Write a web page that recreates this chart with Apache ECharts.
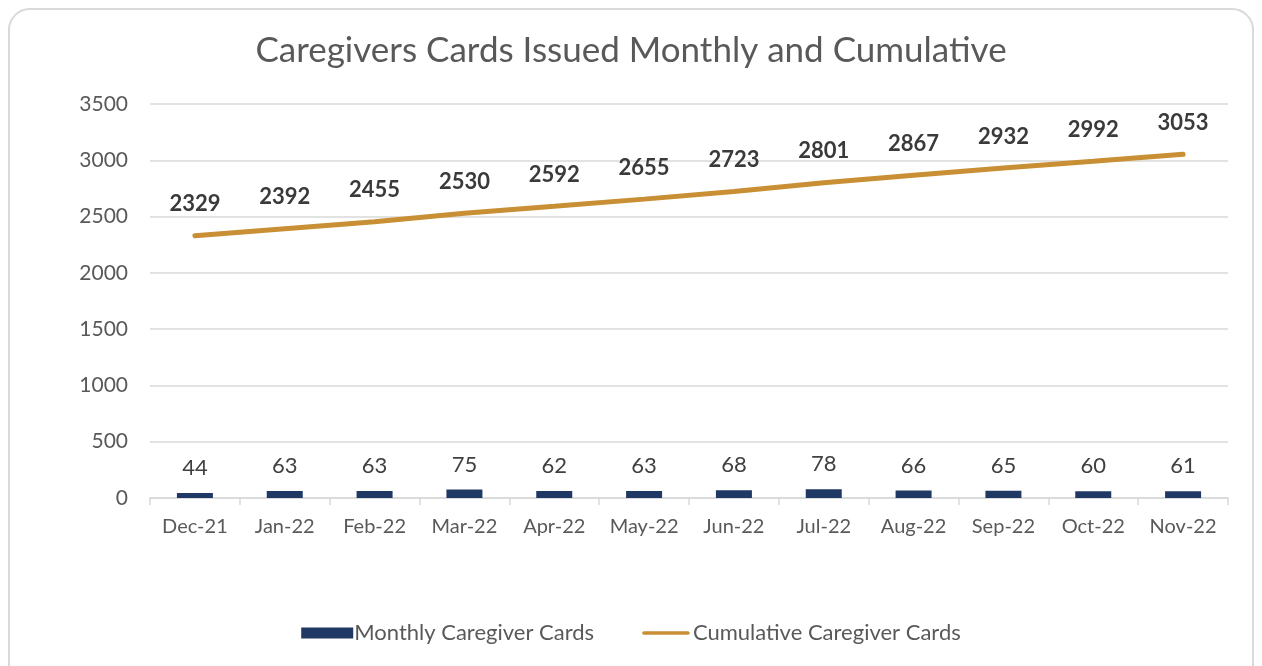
<!DOCTYPE html>
<html>
<head>
<meta charset="utf-8">
<script src="https://cdn.jsdelivr.net/npm/echarts@6/dist/echarts.min.js"></script>
<style>
  html, body { margin: 0; padding: 0; background: #fff; }
  #frame { position: absolute; left: 8px; top: 8px; width: 1246px; height: 680px;
           border: 2px solid #d9d9d9; border-radius: 22px; box-sizing: border-box; }
  #chart { position: absolute; left: 0; top: 0; width: 1262px; height: 666px; }
</style>
</head>
<body>
<div id="frame"></div>
<div id="chart"></div>
<script>
// chart data
var months = ['Dec-21','Jan-22','Feb-22','Mar-22','Apr-22','May-22','Jun-22','Jul-22','Aug-22','Sep-22','Oct-22','Nov-22'];
var monthlyCards = [44, 63, 63, 75, 62, 63, 68, 78, 66, 65, 60, 61];
var cumulativeCards = [2329, 2392, 2455, 2530, 2592, 2655, 2723, 2801, 2867, 2932, 2992, 3053];

var font = 'Lato, "Open Sans", sans-serif';
var myChart = echarts.init(document.getElementById('chart'));

var option = {
  animation: false,
  textStyle: { fontFamily: font },
  title: {
    text: 'Caregivers Cards Issued Monthly and Cumulative',
    left: 'center',
    top: 28,
    textStyle: { fontSize: 35, fontWeight: 'normal', color: '#595959', fontFamily: font }
  },
  legend: {
    bottom: 17,
    left: 'center',
    itemGap: 48,
    itemWidth: 52,
    itemHeight: 11,
    textStyle: { fontSize: 22, color: '#595959', fontFamily: font, padding: [0, 0, 0, -4] },
    data: [
      { name: 'Monthly Caregiver Cards', icon: 'rect' },
      { name: 'Cumulative Caregiver Cards',
        icon: 'path://M0,0 L0.01,0 Z M0,12 L0.01,12 Z M2,4 L50,4 Q52,4 52,6 Q52,8 50,8 L2,8 Q0,8 0,6 Q0,4 2,4 Z' }
    ]
  },
  grid: { left: 150, right: 34, top: 104, bottom: 168 },
  xAxis: {
    type: 'category',
    data: months,
    axisLine: { lineStyle: { color: '#d9d9d9', width: 1.5 } },
    axisTick: { show: true, length: 7, lineStyle: { color: '#d9d9d9', width: 1.5 } },
    axisLabel: { fontSize: 20, color: '#595959', margin: 19, interval: 0 }
  },
  yAxis: {
    type: 'value',
    min: 0,
    max: 3500,
    interval: 500,
    axisLine: { show: false },
    axisTick: { show: false },
    axisLabel: { fontSize: 21, color: '#595959', margin: 22, formatter: function (v) { return String(v); } },
    splitLine: { lineStyle: { color: '#d9d9d9', width: 1.5 } }
  },
  series: [
    {
      name: 'Monthly Caregiver Cards',
      type: 'bar',
      data: monthlyCards,
      barWidth: 36,
      itemStyle: { color: '#1f3864' },
      label: { show: true, position: 'top', distance: 14, fontSize: 22, color: '#404040' }
    },
    {
      name: 'Cumulative Caregiver Cards',
      type: 'line',
      data: cumulativeCards,
      symbol: 'circle',
      symbolSize: 1,
      lineStyle: { color: '#c98f34', width: 5, cap: 'round' },
      itemStyle: { color: '#c98f34' },
      label: { show: true, position: 'top', distance: 20, fontSize: 22, fontWeight: 'bold', color: '#3a3a3a' }
    }
  ]
};
myChart.setOption(option);
</script>
</body>
</html>
